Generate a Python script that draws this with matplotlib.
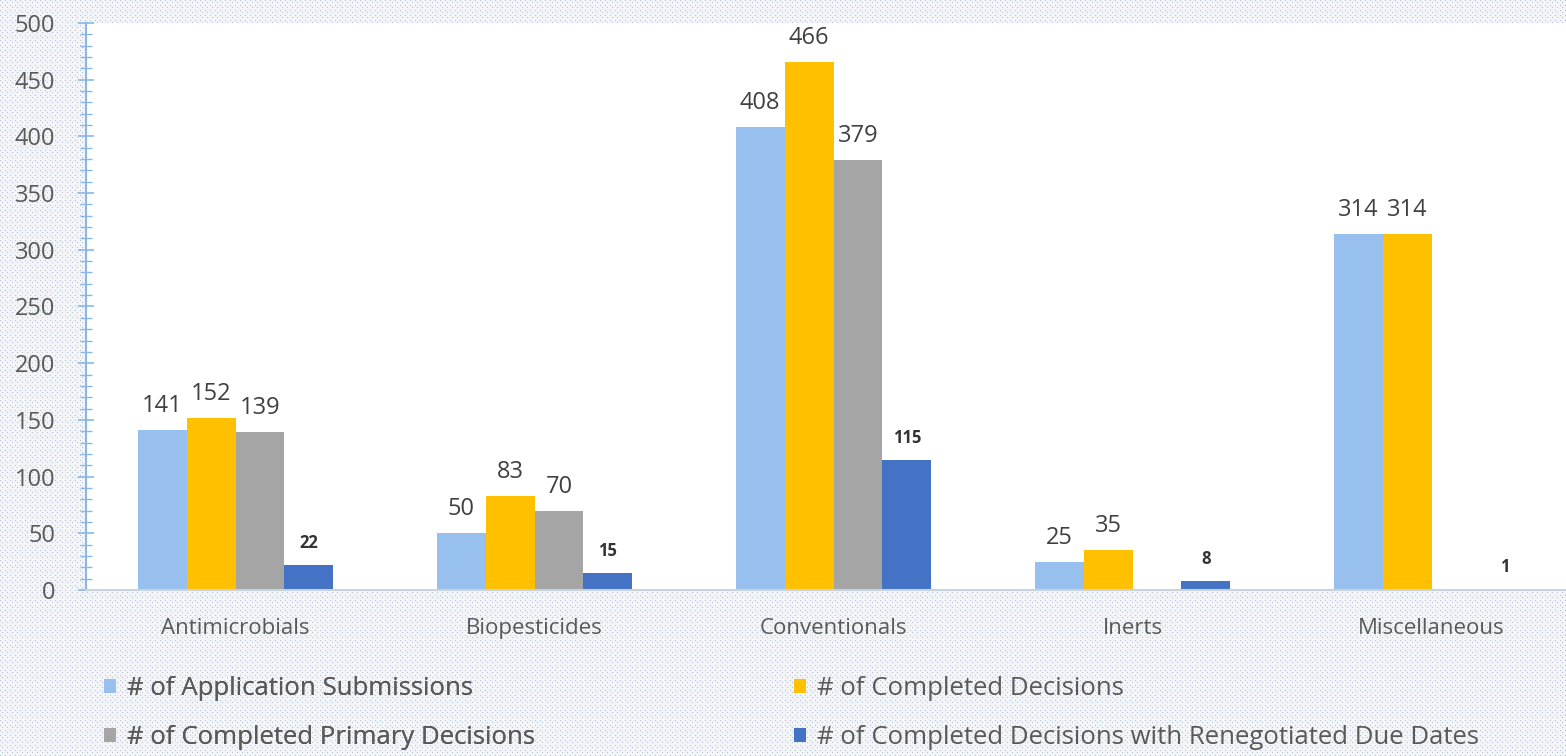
import numpy as np
import matplotlib
matplotlib.use("Agg")
import matplotlib.pyplot as plt
from matplotlib.ticker import MultipleLocator

categories = ["Antimicrobials", "Biopesticides", "Conventionals", "Inerts", "Miscellaneous"]
series_names = ["# of Application Submissions", "# of Completed Decisions",
                "# of Completed Primary Decisions",
                "# of Completed Decisions with Renegotiated Due Dates"]
application_submissions = [141, 50, 408, 25, 314]
completed_decisions = [152, 83, 466, 35, 314]
completed_primary = [139, 70, 379, None, None]
completed_renegotiated = [22, 15, 115, 8, 1]
y_ticks = [0, 50, 100, 150, 200, 250, 300, 350, 400, 450, 500]

colors = ["#97c0ee", "#ffc000", "#a5a5a5", "#4472c4"]
FONT = "Open Sans"
plt.rcParams["font.family"] = [FONT, "DejaVu Sans"]

W, H = 1566, 756
fig = plt.figure(figsize=(W / 100, H / 100), dpi=100)

# dotted background
yy, xx = np.mgrid[0:H, 0:W]
bg = np.ones((H, W, 3)) * np.array([0.95, 0.96, 0.97])
dots = ((xx % 5 == 0) & (yy % 5 == 0)) | ((xx % 5 == 2) & (yy % 5 == 2))
bg[dots] = np.array([0.70, 0.76, 0.82])
fig.figimage(bg, xo=0, yo=0, zorder=-10)

ax = fig.add_axes([86 / W, (H - 590) / H, (1581 - 86) / W, 567 / H])
ax.set_facecolor("white")

x = np.arange(len(categories))
bw = 0.1636
all_series = [application_submissions, completed_decisions, completed_primary, completed_renegotiated]
for i, (vals, col) in enumerate(zip(all_series, colors)):
    v = np.array([np.nan if a is None else a for a in vals], dtype=float)
    pos = x + (i - 1.5) * bw
    ax.bar(pos, np.nan_to_num(v), width=bw, color=col, label=series_names[i], zorder=2)
    for p, val in zip(pos, v):
        if np.isnan(val):
            continue
        if i == 3:
            ax.annotate(f"{int(val)}", (p, val), xytext=(0, 12), textcoords="offset points",
                        ha="center", va="baseline", fontsize=12, fontweight="bold", color="#333333")
        else:
            ax.annotate(f"{int(val)}", (p, val), xytext=(0, 13), textcoords="offset points",
                        ha="center", va="baseline", fontsize=17, color="#404040")

ax.set_xlim(-0.5, len(categories) - 0.5)
ax.set_ylim(0, 500)
ax.set_xticks(x)
ax.set_xticklabels(categories, fontsize=16, color="#595959")
ax.tick_params(axis="x", length=0, pad=20)
ax.set_yticks(y_ticks)
ax.yaxis.set_minor_locator(MultipleLocator(10))
ax.tick_params(axis="y", which="major", direction="inout", length=12, width=1.2,
               color="#8ab8e6", labelsize=17, labelcolor="#595959", pad=16)
ax.tick_params(axis="y", which="minor", direction="inout", length=8, width=1.0, color="#8ab8e6")
for s in ["top", "right"]:
    ax.spines[s].set_visible(False)
ax.spines["left"].set_color("#8ab8e6")
ax.spines["left"].set_linewidth(1.5)
ax.spines["bottom"].set_color("#c9d3dc")
ax.spines["bottom"].set_linewidth(1.5)

handles, labels = ax.get_legend_handles_labels()
common = dict(frameon=False, fontsize=18.5, labelcolor="#595959", handlelength=0.45,
              handleheight=0.45, handletextpad=0.45, labelspacing=0.95, borderpad=0,
              borderaxespad=0)
leg1 = fig.legend([handles[0], handles[2]], [labels[0], labels[2]], loc="upper left",
                  bbox_to_anchor=(104 / W, 1 - 676 / H), **common)
fig.add_artist(leg1)
leg2 = fig.legend([handles[1], handles[3]], [labels[1], labels[3]], loc="upper left",
                  bbox_to_anchor=(794 / W, 1 - 676 / H), **common)

fig.savefig("out.png", dpi=100)
